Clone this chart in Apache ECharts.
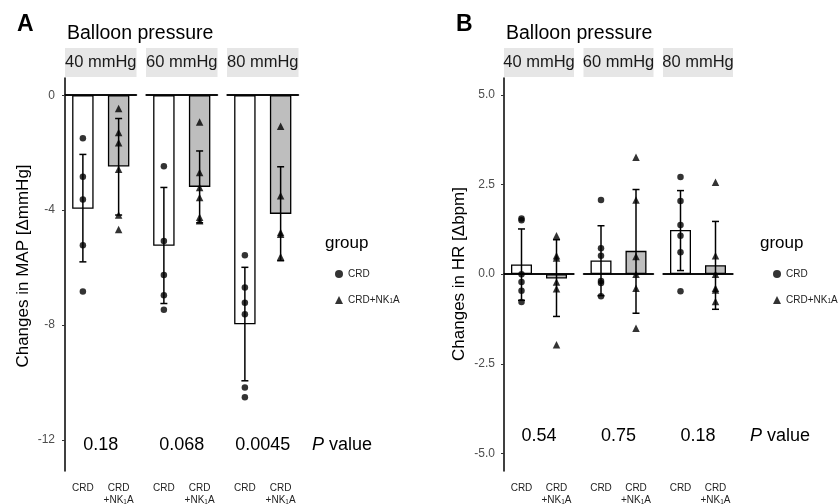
<!DOCTYPE html>
<html lang="en">
<head>
    <meta charset="utf-8">
    <title>Balloon pressure</title>
    <script src="https://cdn.jsdelivr.net/npm/echarts@6/dist/echarts.min.js"></script>
</head>
<body style="margin:0">
    <div id="main" style="width: 840px;height:504px;"></div>
    <script>
    var pressures = ['40 mmHg', '60 mmHg', '80 mmHg'];
    var groups = ['CRD', 'CRD+NK1A'];

    // panel A: MAP, per pressure [CRD, CRD+NK1A]
    var mapMean = [[-3.95, -2.48], [-5.24, -3.19], [-7.97, -4.13]];
    var mapLow = [[-5.80, -4.17], [-7.25, -4.44], [-9.94, -5.76]];
    var mapHigh = [[-2.06, -0.81], [-3.21, -1.94], [-5.99, -2.49]];
    var mapCrd = [[-1.50, -2.84, -3.63, -5.22, -6.83],
                  [-2.47, -5.07, -6.26, -6.96, -7.47],
                  [-5.57, -6.69, -7.22, -7.62, -10.17, -10.51]];
    var mapNk = [[-0.46, -1.30, -1.65, -2.58, -4.17, -4.67],
                 [-0.93, -2.69, -3.21, -3.56, -4.25, -4.37],
                 [-1.08, -3.50, -4.78, -4.84, -5.62]];
    var mapP = ['0.18', '0.068', '0.0045'];

    // panel B: HR
    var hrMean = [[0.27, -0.12], [0.38, 0.65], [1.23, 0.25]];
    var hrLow = [[-0.73, -1.18], [-0.60, -1.09], [0.10, -0.98]];
    var hrHigh = [[1.26, 0.96], [1.35, 2.36], [2.33, 1.47]];
    var hrCrd = [[1.55, 1.50, 0.00, -0.22, -0.46, -0.78],
                 [2.07, 0.72, 0.51, -0.19, -0.25, -0.62],
                 [2.71, 2.04, 1.37, 1.07, 0.61, -0.48]];
    var hrNk = [[1.07, 0.51, 0.45, -0.22, -0.41, -1.97],
                [3.26, 2.07, 0.49, 0.00, -0.39, -1.51],
                [2.56, 0.51, 0.00, -0.39, -0.44, -0.76]];
    var hrP = ['0.54', '0.75', '0.18'];

    var FONT = '"Liberation Sans", Arial, sans-serif';
    var fills = ['#ffffff', '#bebebe'];

    var panels = [
        {letter: 'A', lefts: [65, 146, 227], width: 71.5, min: -13.08, max: 0.6,
         ticks: [-12, -8, -4, 0], dec: 0, mean: mapMean, low: mapLow, high: mapHigh,
         crd: mapCrd, nk: mapNk, p: mapP, yName: 'Changes in MAP [ΔmmHg]',
         nameX: 23, nameY: 266, labelMargin: 10,
         pY: 445, pLabelX: 312, legendX: 335, groupX: 325},
        {letter: 'B', lefts: [504, 583.5, 663], width: 70, min: -5.49, max: 5.47,
         ticks: [-5, -2.5, 0, 2.5, 5], dec: 1, mean: hrMean, low: hrLow, high: hrHigh,
         crd: hrCrd, nk: hrNk, p: hrP, yName: 'Changes in HR [Δbpm]',
         nameX: 459, nameY: 274, labelMargin: 9,
         pY: 436, pLabelX: 750, legendX: 773, groupX: 760}
    ];
    var TOP = 78, HEIGHT = 393;

    var grid = [], xAxis = [], yAxis = [], series = [], graphic = [], legend = [];

    function errorBar(params, api) {
        var c = api.value(0);
        var top = api.coord([c, api.value(2)]);
        var bot = api.coord([c, api.value(1)]);
        var w = 3.5;
        var st = {stroke: '#000', lineWidth: 1.5};
        return {type: 'group', children: [
            {type: 'line', shape: {x1: top[0], y1: top[1], x2: bot[0], y2: bot[1]}, style: st},
            {type: 'line', shape: {x1: top[0] - w, y1: top[1], x2: top[0] + w, y2: top[1]}, style: st},
            {type: 'line', shape: {x1: bot[0] - w, y1: bot[1], x2: bot[0] + w, y2: bot[1]}, style: st}
        ]};
    }

    panels.forEach(function (pn, k) {
        pn.lefts.forEach(function (left, f) {
            var gi = grid.length;
            grid.push({left: left, top: TOP, width: pn.width, height: HEIGHT, outerBoundsMode: 'none'});
            xAxis.push({
                type: 'category', gridIndex: gi, data: groups,
                axisLine: {lineStyle: {color: '#000', width: 1.5}},
                axisTick: {alignWithLabel: true, length: 3, lineStyle: {color: '#333', width: 1}},
                axisLabel: {
                    interval: 0, margin: 11, fontSize: 10, color: '#222', fontFamily: FONT,
                    lineHeight: 12,
                    formatter: function (v) { return v === 'CRD' ? 'CRD' : 'CRD\n+NK{s|1}A'; },
                    rich: {s: {fontSize: 6.5, fontFamily: FONT, color: '#222', verticalAlign: 'bottom', lineHeight: 12}}
                }
            });
            yAxis.push({
                type: 'value', gridIndex: gi, min: pn.min, max: pn.max, show: f === 0,
                splitLine: {show: false},
                axisLine: {show: true, lineStyle: {color: '#000', width: 1.5}},
                axisTick: {show: true, length: 3, customValues: pn.ticks, lineStyle: {color: '#333'}},
                axisLabel: {
                    customValues: pn.ticks, margin: pn.labelMargin, fontSize: 12, color: '#4d4d4d', fontFamily: FONT,
                    formatter: function (v) { return v.toFixed(pn.dec); }
                }
            });

            series.push({
                type: 'bar', name: 'mean', xAxisIndex: gi, yAxisIndex: gi, barWidth: '60%', z: 2,
                data: pn.mean[f].map(function (v, i) {
                    return {value: v, itemStyle: {color: fills[i], borderColor: '#000', borderWidth: 1.3}};
                }),
                markLine: {
                    silent: true, symbol: 'none', label: {show: false},
                    lineStyle: {color: '#000', width: 1.5, type: 'solid'},
                    data: [{yAxis: 0}]
                }
            });
            series.push({
                type: 'custom', name: 'sd', xAxisIndex: gi, yAxisIndex: gi, z: 4,
                renderItem: errorBar,
                data: [0, 1].map(function (i) { return [i, pn.low[f][i], pn.high[f][i]]; })
            });
            series.push({
                type: 'scatter', name: 'CRD', xAxisIndex: gi, yAxisIndex: gi, z: 5,
                symbol: 'circle', symbolSize: 6.5, itemStyle: {color: '#000'},
                data: pn.crd[f].map(function (v) { return [0, v]; })
            });
            series.push({
                type: 'scatter', name: 'CRD+NK1A', xAxisIndex: gi, yAxisIndex: gi, z: 5,
                symbol: 'triangle', symbolSize: 7.5, itemStyle: {color: '#000'},
                data: pn.nk[f].map(function (v) { return [1, v]; })
            });

            // facet strip
            graphic.push({
                type: 'rect', left: left, top: 48, shape: {width: pn.width, height: 29},
                style: {fill: '#e6e6e6'}
            });
            graphic.push({
                type: 'text', x: left + pn.width / 2, y: 62.5,
                style: {text: pressures[f], fill: '#1a1a1a', font: '16.5px ' + FONT, align: 'center', verticalAlign: 'middle'}
            });
            // p value
            graphic.push({
                type: 'text', x: left + pn.width / 2, y: pn.pY,
                style: {text: pn.p[f], fill: '#000', font: '18px ' + FONT, align: 'center', verticalAlign: 'middle'}
            });
        });

        var x0 = pn.lefts[0];
        graphic.push({
            type: 'text', x: x0 - 48, y: 25,
            style: {text: pn.letter, fill: '#000', font: 'bold 23px ' + FONT, verticalAlign: 'middle'}
        });
        graphic.push({
            type: 'text', x: x0 + 2, y: 34,
            style: {text: 'Balloon pressure', fill: '#000', font: '19.5px ' + FONT, verticalAlign: 'middle'}
        });
        graphic.push({
            type: 'text', x: pn.nameX, y: pn.nameY, rotation: Math.PI / 2,
            style: {text: pn.yName, fill: '#000', font: '17px ' + FONT, align: 'center', verticalAlign: 'middle'}
        });
        graphic.push({
            type: 'text', x: pn.pLabelX, y: pn.pY,
            style: {
                text: '{i|P} value', fill: '#000', font: '18px ' + FONT, verticalAlign: 'middle',
                rich: {i: {fontStyle: 'italic', fontSize: 18, fontFamily: FONT, fill: '#000'}}
            }
        });
        graphic.push({
            type: 'text', x: pn.groupX, y: 243,
            style: {text: 'group', fill: '#000', font: '17px ' + FONT, verticalAlign: 'middle'}
        });
        legend.push({
            left: pn.legendX, top: 269, orient: 'vertical', padding: 0,
            itemWidth: 8, itemHeight: 8, itemGap: 16, itemTextGap: 12,
            selectedMode: false,
            data: [{name: 'CRD', icon: 'circle'}, {name: 'CRD+NK1A', icon: 'triangle'}],
            formatter: function (n) { return n === 'CRD' ? 'CRD' : 'CRD+NK{s|1}A'; },
            textStyle: {
                fontSize: 10, color: '#222', fontFamily: FONT,
                rich: {s: {fontSize: 6.5, color: '#222', fontFamily: FONT, verticalAlign: 'bottom'}}
            }
        });
    });

    var myChart = echarts.init(document.getElementById('main'));
    myChart.setOption({
        animation: false,
        backgroundColor: '#fff',
        textStyle: {fontFamily: FONT},
        grid: grid,
        xAxis: xAxis,
        yAxis: yAxis,
        legend: legend,
        graphic: graphic,
        series: series
    });
    </script>
</body>
</html>
